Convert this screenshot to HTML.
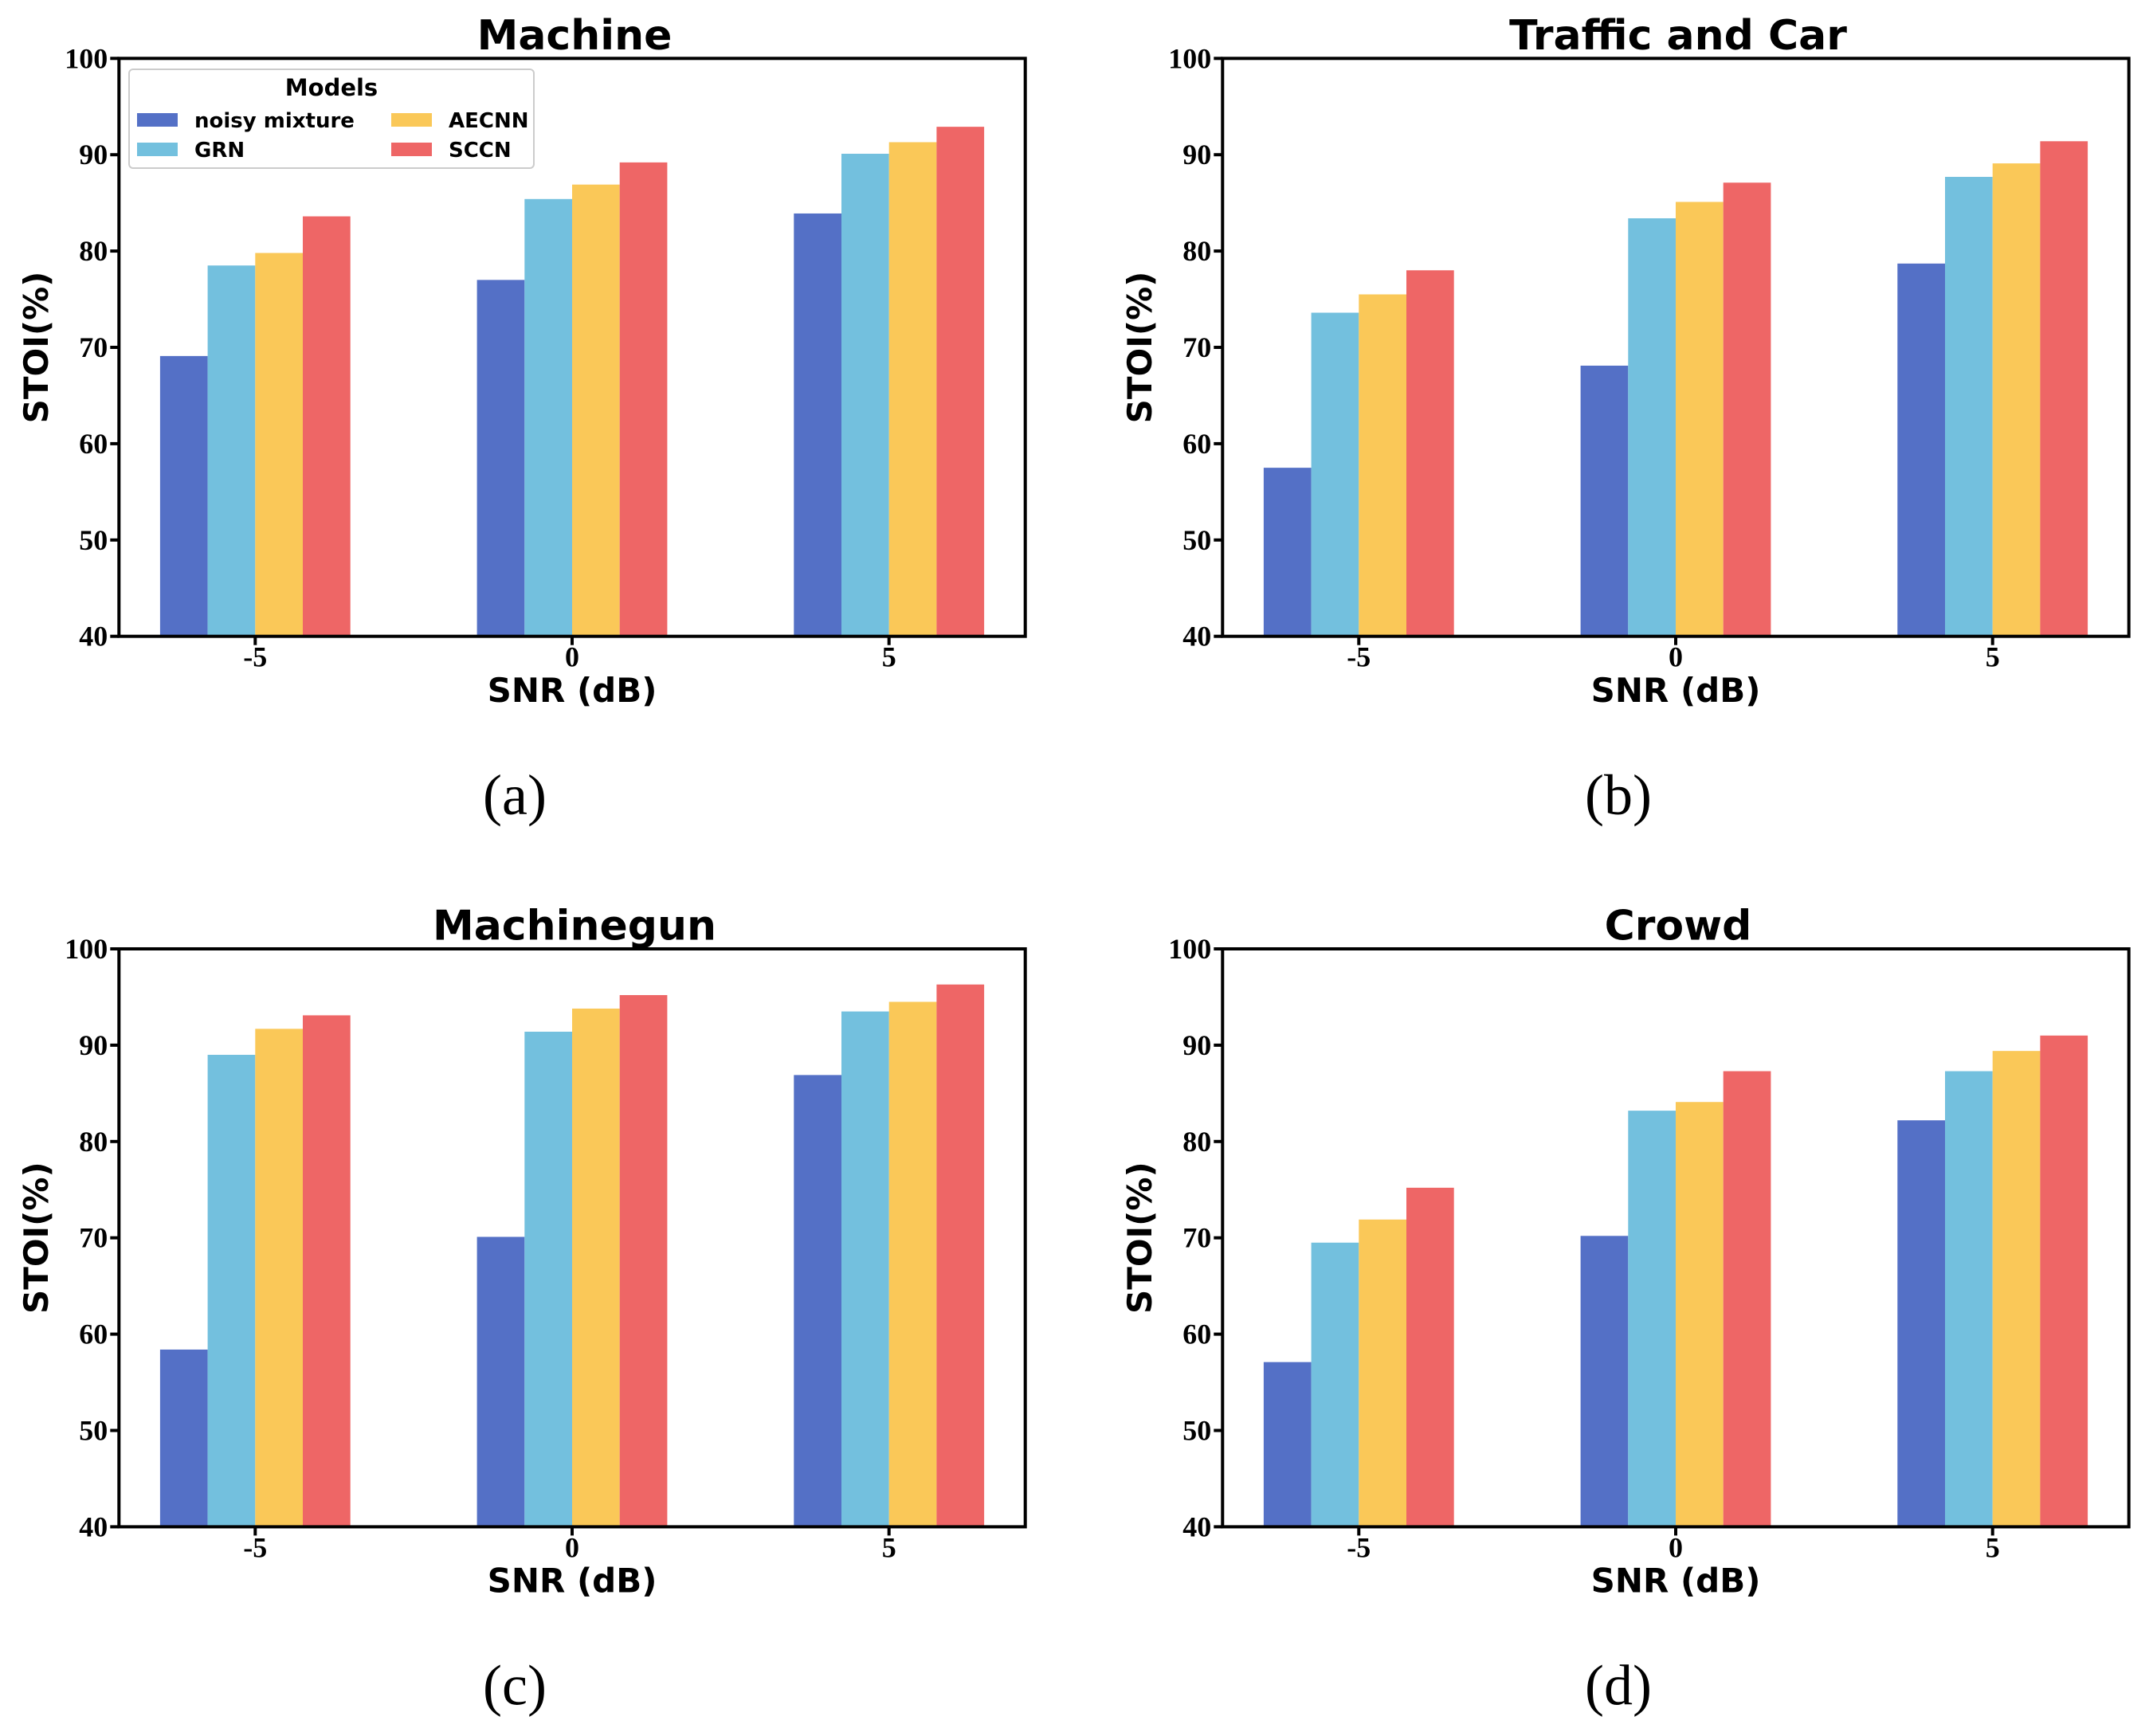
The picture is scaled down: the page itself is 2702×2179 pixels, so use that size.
<!DOCTYPE html>
<html><head><meta charset="utf-8"><style>
html,body{margin:0;padding:0;background:#fff}
svg{display:block}
.tick{font-family:"Liberation Serif",serif;font-weight:bold;font-size:36px;fill:#000}
.lab{font-family:"DejaVu Sans",sans-serif;font-weight:bold;font-size:42px;fill:#000}
.ttl{font-family:"DejaVu Sans",sans-serif;font-weight:bold;font-size:52px;fill:#000}
.cap{font-family:"Liberation Serif",serif;font-size:72px;fill:#000}
.leg{font-family:"DejaVu Sans",sans-serif;font-weight:bold;font-size:26px;fill:#000}
</style></head><body>
<svg id="fig" width="2702" height="2179" viewBox="0 0 2702 2179" xmlns="http://www.w3.org/2000/svg"></svg>
<script>
const categories = ["-5", "0", "5"];
const seriesNames = ["noisy mixture", "GRN", "AECNN", "SCCN"];
const seriesColors = ["#5470C6", "#73C0DE", "#FAC858", "#EE6666"];
const yTicks = [40, 50, 60, 70, 80, 90, 100];
const panelTitles = ["Machine", "Traffic and Car", "Machinegun", "Crowd"];
const panelCaptions = ["(a)", "(b)", "(c)", "(d)"];
const machineValues = [[69.1, 77.0, 83.9], [78.5, 85.4, 90.1], [79.8, 86.9, 91.3], [83.6, 89.2, 92.9]];
const trafficValues = [[57.5, 68.1, 78.7], [73.6, 83.4, 87.7], [75.5, 85.1, 89.1], [78.0, 87.1, 91.4]];
const machinegunValues = [[58.4, 70.1, 86.9], [89.0, 91.4, 93.5], [91.7, 93.8, 94.5], [93.1, 95.2, 96.3]];
const crowdValues = [[57.1, 70.2, 82.2], [69.5, 83.2, 87.3], [71.9, 84.1, 89.4], [75.2, 87.3, 91.0]];
const allValues = [machineValues, trafficValues, machinegunValues, crowdValues];

const NS = "http://www.w3.org/2000/svg";
const fig = document.getElementById("fig");
function mk(tag, attrs, parent, text) {
  const e = document.createElementNS(NS, tag);
  for (const k in attrs) e.setAttribute(k, attrs[k]);
  if (text !== undefined) e.textContent = text;
  parent.appendChild(e);
  return e;
}
const offsets = [[0, 0], [1385, 0], [0, 1117.7], [1385, 1117.7]];
const AX_L = 149.3, AX_R = 1286.7, AX_T = 73.3, AX_B = 798.7;
const yMin = 40, yMax = 100;
const catStep = 397.7, cat0 = 320.3, barW = 59.7;

offsets.forEach((off, p) => {
  const g = mk("g", {transform: `translate(${off[0]},${off[1]})`}, fig);
  
  
  const ys = v => AX_B - (v - yMin) / (yMax - yMin) * (AX_B - AX_T);
  const xs = i => cat0 + i * catStep;
  allValues[p].forEach((ser, s) => {
    ser.forEach((v, i) => {
      const r = mk("rect", {x: xs(i) - 2 * barW + s * barW, y: ys(v), width: barW, height: ys(yMin) - ys(v), fill: seriesColors[s]}, g);
      
      
    });
  });
  const fr = mk("rect", {x: AX_L, y: AX_T, width: AX_R - AX_L, height: AX_B - AX_T, fill: "none", stroke: "#000", "stroke-width": 4}, g);
  
  
  yTicks.forEach(t => {
    mk("line", {x1: AX_L - 11, x2: AX_L, y1: ys(t), y2: ys(t), stroke: "#000", "stroke-width": 4}, g);
    const tl = mk("text", {x: AX_L - 14, y: ys(t) + 12, "text-anchor": "end", class: "tick"}, g, String(t));
    
    
  });
  categories.forEach((c, i) => {
    mk("line", {x1: xs(i), x2: xs(i), y1: AX_B, y2: AX_B + 11, stroke: "#000", "stroke-width": 4}, g);
    const tl = mk("text", {x: xs(i), y: AX_B + 38, "text-anchor": "middle", class: "tick"}, g, c);
    
    
  });
  const cx = (AX_L + AX_R) / 2;
  const xl = mk("text", {x: cx, y: 881, "text-anchor": "middle", class: "lab"}, g, "SNR (dB)");
  
  
  const yl = mk("text", {x: 0, y: 0, "text-anchor": "middle", class: "lab", transform: `translate(60,436) rotate(-90)`}, g, "STOI(%)");
  
  
  const tt = mk("text", {x: cx + 3, y: 62, "text-anchor": "middle", class: "ttl"}, g, panelTitles[p]);
  
  
  const cp = mk("text", {x: 646, y: 1022, "text-anchor": "middle", class: "cap"}, g, panelCaptions[p]);
  
  

  if (p === 0) {
    const lg = mk("g", {}, g);
    
    
    mk("rect", {x: 162, y: 87, width: 508, height: 124, rx: 5, fill: "#fff", "fill-opacity": 0.85, stroke: "#ccc", "stroke-width": 2}, lg);
    const lt = mk("text", {x: 416, y: 120, "text-anchor": "middle", class: "leg", style: "font-size:29px"}, lg, "Models");
    
    
    const pos = [[172, 142], [172, 179], [491, 142], [491, 179]];
    seriesNames.forEach((n, s) => {
      const e = mk("g", {}, lg);
      
      
      mk("rect", {x: pos[s][0], y: pos[s][1], width: 51, height: 17, fill: seriesColors[s]}, e);
      mk("text", {x: pos[s][0] + 72, y: pos[s][1] + 18, class: "leg"}, e, n);
    });
  }
});
</script>
</body></html>
